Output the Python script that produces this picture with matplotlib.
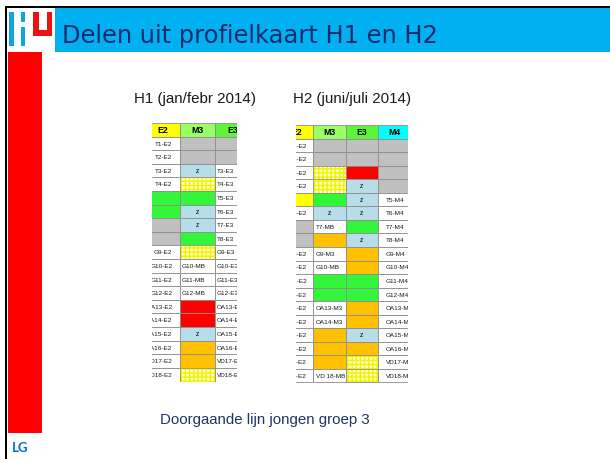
import matplotlib
matplotlib.use("Agg")
import matplotlib.pyplot as plt
from matplotlib.patches import Rectangle

# ---------------- data ----------------
title = "Delen uit profielkaart H1 en H2"
subtitle_h1 = "H1 (jan/febr 2014)"
subtitle_h2 = "H2 (juni/juli 2014)"
caption = "Doorgaande lijn jongen groep 3"
footer = "LG"

# cell codes: x=gray, g=green, z=light blue with 'z', r=red, o=orange,
# y=yellow hatched, Y=solid yellow; any other string = white cell with label
h1_columns = ["E2", "M3", "E3"]
h1_E2 = ["T1-E2", "T2-E2", "T3-E2", "T4-E2", "g", "g", "x", "x", "G9-E2", "G10-E2",
         "G11-E2", "G12-E2", "OA13-E2", "OA14-E2", "OA15-E2", "OA16-E2", "VD17-E2", "VD18-E2"]
h1_M3 = ["x", "x", "z", "y", "g", "z", "z", "g", "y", "G10-MB",
         "G11-MB", "G12-MB", "r", "r", "z", "o", "o", "y"]
h1_E3 = ["x", "x", "T3-E3", "T4-E3", "T5-E3", "T6-E3", "T7-E3", "T8-E3", "G9-E3", "G10-E3",
         "G11-E3", "G12-E3", "OA13-E3", "OA14-E3", "OA15-E3", "OA16-E3", "VD17-E3", "VD18-E3"]

h2_columns = ["E2", "M3", "E3", "M4"]
h2_E2 = ["T1-E2", "T2-E2", "T3-E2", "T4-E2", "Y", "T6-E2", "x", "x", "G9-E2", "G10-E2",
         "G11-E2", "G12-E2", "OA13-E2", "OA14-E2", "OA15-E2", "OA16-E2", "VD17-E2", "VD18-E2"]
h2_M3 = ["x", "x", "y", "y", "g", "z", "T7-MB", "o", "G9-M3", "G10-MB",
         "g", "g", "OA13-M3", "OA14-M3", "o", "o", "o", "VD 18-MB"]
h2_E3 = ["x", "x", "r", "z", "z", "z", "g", "z", "o", "o",
         "g", "g", "o", "o", "z", "o", "y", "y"]
h2_M4 = ["x", "x", "x", "x", "T5-M4", "T6-M4", "T7-M4", "T8-M4", "G9-M4", "G10-M4",
         "G11-M4", "G12-M4", "OA13-M4", "OA14-M4", "OA15-M4", "OA16-M4", "VD17-M4", "VD18-M4"]

# ---------------- styles ----------------
W, H = 610, 459
fill = {"x": "#C0C0C0", "g": "#33F53A", "z": "#B7DEE8", "r": "#FF0000",
        "o": "#FFC000", "Y": "#FFFF00"}
header_fill = {"E2": "#FFFF00", "M3": "#99FF66", "E3": "#5CF53A", "M4": "#00FFFF"}
navy = "#1C2A6B"

fig = plt.figure(figsize=(W / 100, H / 100), dpi=100)
ax = fig.add_axes([0, 0, 1, 1])
ax.set_xlim(0, W)
ax.set_ylim(H, 0)
ax.axis("off")

# frame
ax.add_patch(Rectangle((5, 5.8), W - 5, 2.4, color="black", lw=0))
ax.add_patch(Rectangle((5, 5.8), 2.4, H, color="black", lw=0))
# header band
ax.add_patch(Rectangle((55, 8.2), W - 55, 44.2, color="#00B0F0", lw=0))
# logo
ax.add_patch(Rectangle((7.4, 8.2), 47.6, 44.2, color="white", lw=0))
ax.add_patch(Rectangle((9, 11.8), 5, 34.2, color="#0FA5E0", lw=0))
ax.add_patch(Rectangle((21, 11.8), 4.2, 10.4, color="#0FA5E0", lw=0))
ax.add_patch(Rectangle((21, 27.2), 4.2, 18.8, color="#0FA5E0", lw=0))
ax.add_patch(Rectangle((33, 11.8), 5.5, 20, color="#EE1111", lw=0))
ax.add_patch(Rectangle((46.5, 11.8), 5.5, 20, color="#EE1111", lw=0))
ax.add_patch(Rectangle((33, 30), 19, 6, color="#EE1111", lw=0))
# red side bar
ax.add_patch(Rectangle((8, 52.4), 33.5, 380.8, color="#FF0000", lw=0))

ax.text(61.5, 43.4, title, fontsize=17.4, family="DejaVu Sans", color=navy,
        va="baseline", ha="left")
ax.text(134, 102.6, subtitle_h1, fontsize=10.9, family="Liberation Sans",
        color="#1A1A1A", va="baseline", ha="left")
ax.text(293, 102.6, subtitle_h2, fontsize=10.9, family="Liberation Sans",
        color="#1A1A1A", va="baseline", ha="left")
ax.text(160, 424.4, caption, fontsize=10.8, family="Liberation Sans",
        color="#1F3468", va="baseline", ha="left")
ax.text(12, 452.5, footer, fontsize=9.5, family="Lato", fontweight="bold",
        color="#0070C0", va="baseline", ha="left")


def table(px_box, xlim, colnames, cols, pxw, text_cfg):
    x0, y0, x1, y1 = px_box
    tax = fig.add_axes([x0 / W, 1 - y1 / H, (x1 - x0) / W, (y1 - y0) / H])
    tax.set_xlim(*xlim)
    nrows = len(cols[0])
    tax.set_ylim(nrows + 1, 0)
    tax.axis("off")
    edge = "#8C8C8C"
    for c, name in enumerate(colnames):
        tax.add_patch(Rectangle((c, 0), 1, 1, facecolor=header_fill[name],
                                edgecolor=edge, lw=0.6, clip_on=True))
        tax.text(c + 0.5, 0.55, name, ha="center", va="center", fontsize=6.3,
                 fontweight="bold", family="Liberation Sans", clip_on=True)
        for r, v in enumerate(cols[c]):
            y = r + 1
            if v == "y":
                tax.add_patch(Rectangle((c, y), 1, 1, facecolor="#FFFFC8",
                                        edgecolor="#F2F200", hatch="++++", lw=0,
                                        clip_on=True))
                tax.add_patch(Rectangle((c, y), 1, 1, facecolor="none",
                                        edgecolor=edge, lw=0.6, clip_on=True))
                continue
            fc = fill.get(v, "white")
            tax.add_patch(Rectangle((c, y), 1, 1, facecolor=fc, edgecolor=edge,
                                    lw=0.6, clip_on=True))
            if v == "z":
                tax.text(c + 0.5, y + 0.55, "z", ha="center", va="center",
                         fontsize=4.8, family="Liberation Sans", clip_on=True)
            elif v not in fill:
                if c == 0:
                    tx, ha = c + 1 - text_cfg[0] / pxw, "right"
                else:
                    tx, ha = c + text_cfg[c] / pxw, "left"
                tax.text(tx, y + 0.55, v, ha=ha, va="center", fontsize=4.6,
                         family="Liberation Sans", color="#1A1A1A", clip_on=True)
    return tax


table((152, 123, 237, 381.5), (1 - 28 / 35, 2 + 22 / 35), h1_columns,
      [h1_E2, h1_M3, h1_E3], 35, [7.5, 2, 1.5])
table((296, 125, 408, 382.5), (1 - 17 / 32.5, 3 + 30 / 32.5), h2_columns,
      [h2_E2, h2_M3, h2_E3, h2_M4], 32.5, [6, 2.5, 2.5, 8])

fig.savefig("out.png", dpi=100)
